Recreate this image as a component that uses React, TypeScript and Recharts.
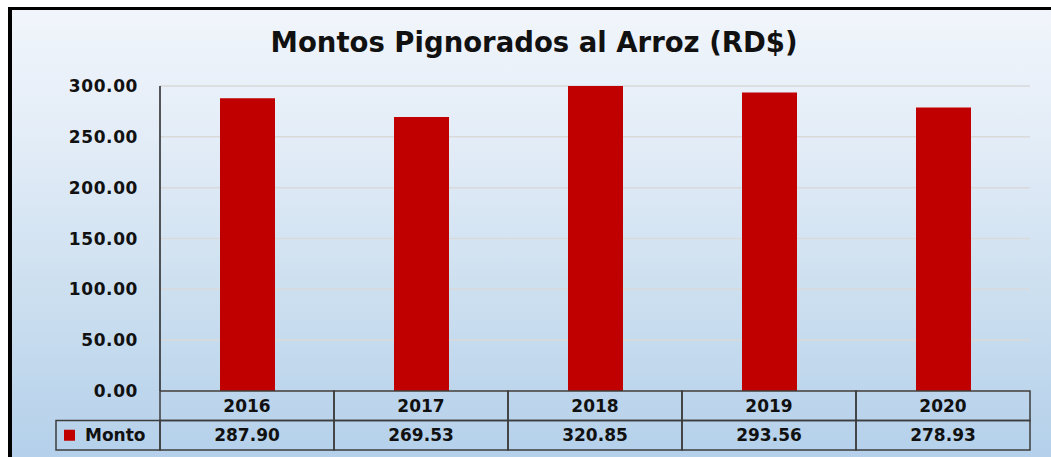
import { BarChart, Bar, XAxis, YAxis, CartesianGrid } from "recharts";

const years = ["2016", "2017", "2018", "2019", "2020"];
const montos = [287.9, 269.53, 320.85, 293.56, 278.93];
const yTicks = [0, 50, 100, 150, 200, 250, 300];
const seriesName = "Monto";
const title = "Montos Pignorados al Arroz (RD$)";

const W = 1051;
const H = 457;
const margin = { top: 86, right: 21, left: 10, bottom: 0 };
const Y_AXIS_W = 150;
const X_AXIS_H = 66;
const ROW_H = 29.5;
const LEGEND_W = 104;
const FONT = "'DejaVu Sans', Verdana, sans-serif";
const RED = "#c00000";
const LINE = "#3c3c3c";

const data = years.map((year, i) => ({ year, monto: montos[i] }));

const plotLeft = margin.left + Y_AXIS_W;
const plotW = W - plotLeft - margin.right;
const bandW = plotW / years.length;
const tableTop = H - margin.bottom - X_AXIS_H;

const txt = { fontFamily: FONT, fontWeight: 700, fontSize: 17, fill: "#111" };

function YTick({ x, y, payload }: any) {
  return (
    <text x={x - 14} y={y} dy="0.36em" textAnchor="end" letterSpacing={0.6} {...txt}>
      {Number(payload.value).toFixed(2)}
    </text>
  );
}

// each category tick draws its column of the data table
function TableTick(props: any) {
  const { x, payload } = props;
  const i = props.index ?? payload.index;
  const left = x - bandW / 2;
  const row2 = tableTop + ROW_H;
  return (
    <g>
      <rect x={left} y={tableTop} width={bandW} height={ROW_H} fill="none" stroke={LINE} strokeWidth={1.5} />
      <text x={x} y={tableTop + ROW_H / 2} dy="0.36em" textAnchor="middle" {...txt}>
        {payload.value}
      </text>
      <rect x={left} y={row2} width={bandW} height={ROW_H} fill="none" stroke={LINE} strokeWidth={1.5} />
      <text x={x} y={row2 + ROW_H / 2} dy="0.36em" textAnchor="middle" {...txt}>
        {montos[i].toFixed(2)}
      </text>
      {i === 0 && (
        <g>
          <rect x={plotLeft - LEGEND_W} y={row2} width={LEGEND_W} height={ROW_H} fill="none" stroke={LINE} strokeWidth={1.5} />
          <rect x={plotLeft - LEGEND_W + 8} y={row2 + ROW_H / 2 - 5.5} width={11} height={11} fill={RED} />
          <text x={plotLeft - LEGEND_W + 29} y={row2 + ROW_H / 2} dy="0.36em" {...txt}>
            {seriesName}
          </text>
        </g>
      )}
    </g>
  );
}

export default function App() {
  return (
    <div style={{ position: "absolute", left: 0, top: 0, width: W, height: H, background: "#fff", overflow: "hidden" }}>
      <div
        style={{
          position: "absolute",
          left: 8,
          top: 7,
          width: W,
          height: H,
          borderTop: "3px solid #000",
          borderLeft: "4px solid #000",
          background: "linear-gradient(to bottom, #f1f5fb 0%, #e2ecf7 30%, #cadeef 65%, #b3cfea 100%)",
        }}
      />
      <svg width={W} height={70} style={{ position: "absolute", left: 0, top: 0 }}>
        <text x={534} y={52} textAnchor="middle" fontFamily={FONT} fontWeight={700} fontSize={27.5} fill="#111">
          {title}
        </text>
      </svg>
      <div style={{ position: "absolute", left: 0, top: 0 }}>
        <BarChart width={W} height={H} data={data} margin={margin}>
          <CartesianGrid horizontal vertical={false} stroke="#d9d9d9" strokeWidth={1.5} />
          <XAxis dataKey="year" height={X_AXIS_H} axisLine={false} tickLine={false} tick={<TableTick />} interval={0} />
          <YAxis
            width={Y_AXIS_W}
            domain={[0, 300]}
            ticks={yTicks}
            allowDataOverflow
            axisLine={{ stroke: "#222", strokeWidth: 1.5 }}
            tickLine={false}
            tick={<YTick />}
          />
          <Bar dataKey="monto" fill={RED} barSize={55} isAnimationActive={false} />
        </BarChart>
      </div>
    </div>
  );
}
